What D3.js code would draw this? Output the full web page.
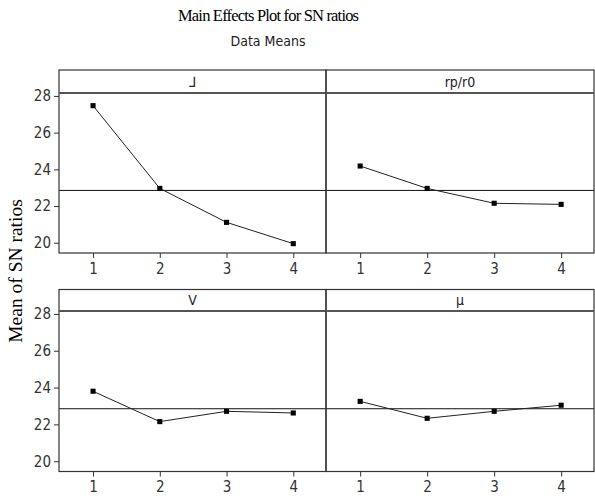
<!DOCTYPE html>
<html lang="en">

<head>
    <meta charset="UTF-8">
    <title>Main Effects Plot for SN ratios</title>
    <script src="https://d3js.org/d3.v7.min.js"></script>
    <style>
        body { margin: 0; background: white; }
        svg { display: block; }
    </style>
</head>

<body>
    <script>
        // data
        const levels = [1, 2, 3, 4];
        const factorNames = ["\u2143", "rp/r0", "V", "\u03bc"];
        const seriesA = [27.47, 22.96, 21.11, 19.95];
        const seriesB = [24.18, 22.96, 22.15, 22.09];
        const seriesC = [23.80, 22.15, 22.71, 22.62];
        const seriesD = [23.25, 22.33, 22.71, 23.04];
        const grandMean = 22.85;
        const yTicks = [20, 22, 24, 26, 28];

        const width = 595, height = 501;
        const svg = d3.select('body').append('svg')
            .attr('width', width)
            .attr('height', height);

        // titles
        svg.append('text')
            .attr('x', 268).attr('y', 21)
            .attr('text-anchor', 'middle')
            .attr('font-family', 'Liberation Serif')
            .attr('font-size', 16.5)
            .attr('letter-spacing', -1)
            .attr('textLength', 180)
            .text('Main Effects Plot for SN ratios');
        svg.append('text')
            .attr('x', 268).attr('y', 46)
            .attr('text-anchor', 'middle')
            .attr('font-family', 'Liberation Sans Narrow, DejaVu Sans Condensed, Liberation Sans')
            .attr('font-size', 14)
            .attr('fill', '#222')
            .text('Data Means');

        svg.append('text')
            .attr('transform', 'translate(22,271) rotate(-90)')
            .attr('text-anchor', 'middle')
            .attr('font-family', 'Liberation Serif')
            .attr('font-size', 19.5)
            .text('Mean of SN ratios');

        // panel layout
        const cols = [[59, 326], [326, 594]];
        const rows = [{ top: 70, strip: 93, bottom: 253 }, { top: 289.5, strip: 311, bottom: 471.5 }];
        const panels = [
            { name: factorNames[0], values: seriesA, c: 0, r: 0 },
            { name: factorNames[1], values: seriesB, c: 1, r: 0 },
            { name: factorNames[2], values: seriesC, c: 0, r: 1 },
            { name: factorNames[3], values: seriesD, c: 1, r: 1 }
        ];

        panels.forEach(p => {
            const [x0, x1] = cols[p.c];
            const row = rows[p.r];
            const x = d3.scaleLinear().domain([0.49, 4.49]).range([x0, x1]);
            const y = d3.scaleLinear().domain([19.44, 28.16]).range([row.bottom, row.strip]);
            const g = svg.append('g');

            // mean line
            g.append('line')
                .attr('x1', x0).attr('x2', x1)
                .attr('y1', y(grandMean)).attr('y2', y(grandMean))
                .attr('stroke', '#111').attr('stroke-width', 1);

            // data line + points
            const pts = levels.map((l, i) => [l, p.values[i]]);
            g.append('path')
                .attr('d', d3.line().x(d => x(d[0])).y(d => y(d[1]))(pts))
                .attr('fill', 'none')
                .attr('stroke', '#222')
                .attr('stroke-width', 1);
            g.selectAll('.pt').data(pts).enter()
                .append('path')
                .attr('class', 'pt')
                .attr('transform', d => 'translate(' + x(d[0]) + ',' + y(d[1]) + ')')
                .attr('d', d3.symbol().type(d3.symbolSquare).size(26))
                .attr('fill', '#000');

            // box and strip
            g.append('rect')
                .attr('x', x0).attr('y', row.top)
                .attr('width', x1 - x0).attr('height', row.bottom - row.top)
                .attr('fill', 'none').attr('stroke', '#333').attr('stroke-width', 1.2);
            g.append('line')
                .attr('x1', x0).attr('x2', x1)
                .attr('y1', row.strip).attr('y2', row.strip)
                .attr('stroke', '#555').attr('stroke-width', 2);
            g.append('text')
                .attr('x', (x0 + x1) / 2).attr('y', row.strip - 6)
                .attr('text-anchor', 'middle')
                .attr('font-family', 'Liberation Sans Narrow, DejaVu Sans Condensed, Liberation Sans')
                .attr('font-size', 14)
                .attr('fill', '#222')
                .text(p.name);

            // x axis
            const xa = g.append('g')
                .attr('transform', 'translate(0,' + row.bottom + ')')
                .call(d3.axisBottom(x).tickValues(levels).tickFormat(d3.format('d')).tickSize(5).tickPadding(5));
            xa.select('.domain').remove();

            // y axis on the left column
            if (p.c === 0) {
                const ya = g.append('g')
                    .attr('transform', 'translate(' + x0 + ',0)')
                    .call(d3.axisLeft(y).tickValues(yTicks).tickSize(5).tickPadding(3));
                ya.select('.domain').remove();
            }
        });

        svg.selectAll('.tick line').attr('stroke', '#333');
        svg.selectAll('.tick text')
            .attr('font-family', 'Liberation Sans Narrow, DejaVu Sans Condensed, Liberation Sans')
            .attr('font-size', 15)
            .attr('fill', '#333');
    </script>
</body>

</html>
